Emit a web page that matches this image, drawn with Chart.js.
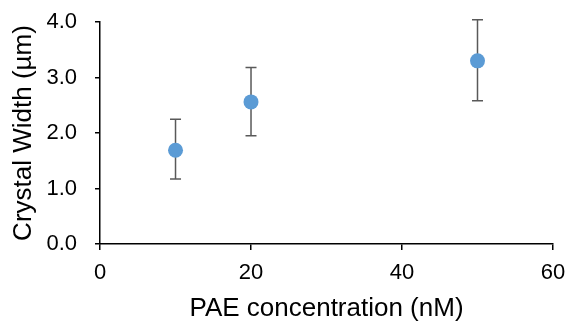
<!DOCTYPE html>
<html>
<head>
<meta charset="utf-8">
<script src="https://cdn.jsdelivr.net/npm/chart.js@4.4.0/dist/chart.umd.min.js"></script>
<style>
  html, body { margin: 0; padding: 0; background: #fff; }
  #wrap { width: 569px; height: 322px; }
</style>
</head>
<body>
<div id="wrap"><canvas id="chart" width="569" height="322"></canvas></div>
<script>
// data
const conc = [10, 20, 50];
const crystalWidth = [1.69, 2.56, 3.30];
const errLow = [1.17, 1.95, 2.58];
const errHigh = [2.25, 3.18, 4.04];
const xTicks = [0, 20, 40, 60];
const yTicks = [0, 1, 2, 3, 4];

const points = conc.map((x, i) => ({ x: x, y: crystalWidth[i] }));

//draw the error bars under the markers
const errorBars = {
    id: 'errorBars',
    beforeDatasetsDraw(chart) {
        const ctx = chart.ctx;
        const xs = chart.scales.x;
        const ys = chart.scales.y;
        ctx.save();
        ctx.strokeStyle = '#595959';
        ctx.lineWidth = 1.5;
        for (let i = 0; i < conc.length; i++) {
            const px = xs.getPixelForValue(conc[i]);
            const top = ys.getPixelForValue(errHigh[i]);
            const bot = ys.getPixelForValue(errLow[i]);
            ctx.beginPath();
            ctx.moveTo(px, top); ctx.lineTo(px, bot);
            ctx.moveTo(px - 5.5, top); ctx.lineTo(px + 5.5, top);
            ctx.moveTo(px - 5.5, bot); ctx.lineTo(px + 5.5, bot);
            ctx.stroke();
        }
        ctx.restore();
    }
};

const tickFont = { family: 'Liberation Sans, Arial, sans-serif', size: 22 };
const xTitleFont = { family: 'Liberation Sans, Arial, sans-serif', size: 26, lineHeight: 1.0 };
const yTitleFont = { family: 'Liberation Sans, Arial, sans-serif', size: 26, lineHeight: 0.34 };

new Chart(document.getElementById('chart').getContext('2d'), {
    type: 'scatter',
    data: {
        datasets: [{
            data: points,
            backgroundColor: '#5B9BD5',
            borderColor: '#5B9BD5',
            pointRadius: 7.5,
            pointHoverRadius: 7.5,
            borderWidth: 0
        }]
    },
    options: {
        responsive: false,
        animation: false,
        layout: { padding: { top: 0, right: 16, left: 0, bottom: 0 } },
        plugins: { legend: { display: false }, tooltip: { enabled: false } },
        scales: {
            x: {
                type: 'linear',
                min: 0, max: 60,
                afterBuildTicks: (s) => { s.ticks = xTicks.map(v => ({ value: v })); },
                afterFit: (s) => { s.paddingRight = 0; s.paddingLeft = 0; },
                ticks: { color: '#000', font: tickFont, padding: 9.3, maxRotation: 0 },
                grid: { drawOnChartArea: false, drawTicks: true, tickLength: 6, color: '#000', lineWidth: 1.5 },
                border: { display: true, color: '#000', width: 1.5 },
                title: { display: true, text: 'PAE concentration (nM)', color: '#000', font: xTitleFont, padding: { top: 1, bottom: 0 } }
            },
            y: {
                type: 'linear',
                min: 0, max: 4,
                afterBuildTicks: (s) => { s.ticks = yTicks.map(v => ({ value: v })); },
                afterFit: (s) => { s.paddingTop = 22; s.paddingBottom = 0; },
                ticks: { color: '#000', font: tickFont, padding: 18, callback: v => v.toFixed(1) },
                grid: { drawOnChartArea: false, drawTicks: true, tickLength: 5, color: '#000', lineWidth: 1.5 },
                border: { display: true, color: '#000', width: 1.5 },
                title: { display: true, text: 'Crystal Width (µm)', color: '#000', font: yTitleFont, padding: { top: 19.6, bottom: 0 } }
            }
        }
    },
    plugins: [errorBars]
});
</script>
</body>
</html>
